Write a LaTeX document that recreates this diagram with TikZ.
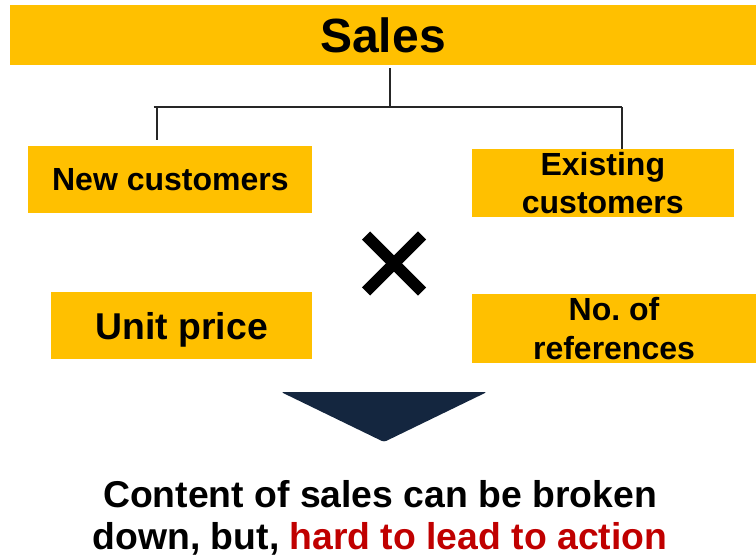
\documentclass[tikz,border=0pt]{standalone}
\usepackage{fontspec}
\setmainfont{Liberation Sans}
\usetikzlibrary{positioning}
\definecolor{boxyellow}{HTML}{FFC000}
\definecolor{navy}{HTML}{14263F}
\definecolor{alert}{HTML}{C00000}
\tikzstyle{box}=[fill=boxyellow, inner sep=0pt, align=center, font=\fontsize{24}{29}\selectfont\bfseries]
\tikzstyle{tree} = [line width=1.5pt, black!85]
\tikzstyle{cross} = [line width=8.5pt, black]

\begin{document}
\begin{tikzpicture}[x=0.75pt, y=-0.75pt]
    \useasboundingbox (0,0) rectangle (756,559);

    \node [box, minimum width=559.5pt, minimum height=45pt, font=\fontsize{36}{40}\selectfont\bfseries](sales) at (383,35) {Sales};
    \node [box, minimum width=213pt, minimum height=50.8pt](newc) at (170.4,179.5) {New customers};
    \node [box, minimum width=196.5pt, minimum height=51pt](exist) at (602.8,183) {Existing\\customers};
    \node [box, minimum width=196pt, minimum height=50.3pt, text depth=0pt, font=\fontsize{28}{32}\selectfont\bfseries](price) at (181.7,325.7) {Unit price};
    \node [box, minimum width=213.4pt, minimum height=51.5pt](refs) at (614,328.3) {No.\ of\\references};

    % tree from sales
    \coordinate (split) at (390,107);
    \coordinate (lft) at (157,107);
    \coordinate (rgt) at (622,107);
    \draw[tree, shorten <=2pt] (sales.south -| split) -- (split);
    \draw[tree] ([xshift=-2.5pt]lft) -- (rgt);
    \draw[tree, shorten >=4pt] (lft) -- (lft |- newc.north);
    \draw[tree] (rgt) -- (rgt |- exist.north);

    % times sign
    \coordinate (times) at (394,263.5);
    \draw[cross] ([xshift=-21pt, yshift=21pt]times) -- ([xshift=21pt, yshift=-21pt]times);
    \draw[cross] ([xshift=-21pt, yshift=-21pt]times) -- ([xshift=21pt, yshift=21pt]times);

    % down arrow
    \fill[navy, rounded corners=2pt] (281,392) -- (487,392) -- (384,442) -- cycle;

    \node [align=center, font=\fontsize{28}{31.5}\selectfont\bfseries](note) at (380,518) {Content of sales can be broken\\down, but, \textcolor{alert}{hard to lead to action}};
\end{tikzpicture}
\end{document}
